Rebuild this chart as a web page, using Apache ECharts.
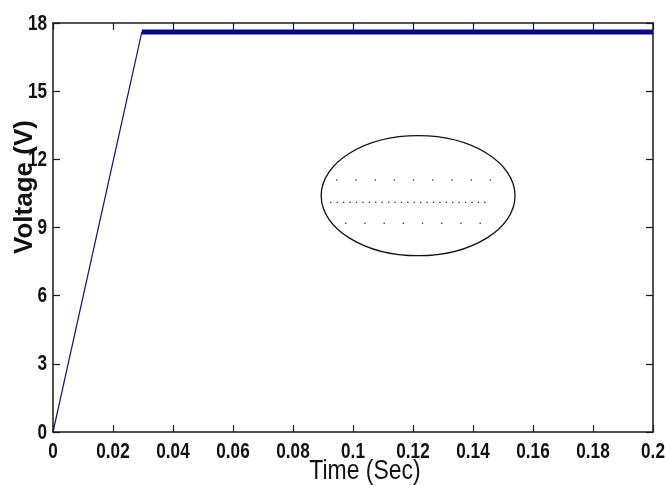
<!DOCTYPE html>
<html>
<head>
<meta charset="utf-8">
<script src="https://cdn.jsdelivr.net/npm/echarts@6/dist/echarts.min.js"></script>
<style>
html,body{margin:0;padding:0;background:#fff;}
#chart{width:665px;height:486px;}
</style>
</head>
<body>
<div id="chart"></div>
<script>
// ---- data ----
var xTicks = [0, 0.02, 0.04, 0.06, 0.08, 0.1, 0.12, 0.14, 0.16, 0.18, 0.2];
var xTickLabels = ['0','0.02','0.04','0.06','0.08','0.1','0.12','0.14','0.16','0.18','0.2'];
var yTicks = [0, 3, 6, 9, 12, 15, 18];
var yTickLabels = ['0','3','6','9','12','15','18'];
var rampTime = [0, 0.0296];
var rampVoltage = [0, 17.6];
var steadyTime = [0.0296, 0.2];
var steadyVoltage = [17.6, 17.6];
// annotation (ellipse with dotted rows), in data units
var ellipseCenter = [0.1217, 10.40];
var ellipseRadii = [0.0323, 2.64];
var dotRowY = [11.09, 10.11, 9.19];
var dotRowStart = [0.0946, 0.0926, 0.0976];
var dotRowStep = [0.0064, 0.00214, 0.0064];
var dotRowCount = [9, 25, 8];
var xTitle = 'Time (Sec)';
var yTitle = 'Voltage (V)';

var sansFont = '"Liberation Sans", Arial, sans-serif';

function pairs(xs, ys){ return xs.map(function(x,i){ return [x, ys[i]]; }); }

var chart = echarts.init(document.getElementById('chart'), null, {renderer:'canvas'});
var axisLine = {show:true, onZero:false, lineStyle:{color:'#1a1a1a', width:1.5}};
var tick = {show:true, inside:true, length:7, lineStyle:{color:'#1a1a1a', width:1.2}};
var option = {
  animation:false,
  backgroundColor:'#ffffff',
  grid:{left:53, right:12, top:23, bottom:54, containLabel:false},
  xAxis:[
    {type:'value', min:0, max:0.2, interval:0.02, position:'bottom',
     axisLine:axisLine, axisTick:tick, splitLine:{show:false}, axisLabel:{show:false}},
    {type:'value', min:0, max:0.2, interval:0.02, position:'top',
     axisLine:axisLine, axisTick:tick, splitLine:{show:false}, axisLabel:{show:false}}
  ],
  yAxis:[
    {type:'value', min:0, max:18, interval:3, position:'left',
     axisLine:axisLine, axisTick:tick, splitLine:{show:false}, axisLabel:{show:false}},
    {type:'value', min:0, max:18, interval:3, position:'right',
     axisLine:axisLine, axisTick:tick, splitLine:{show:false}, axisLabel:{show:false}}
  ],
  series:[
    {type:'line', data:pairs(rampTime, rampVoltage), showSymbol:false, symbol:'none',
     lineStyle:{color:'#14146e', width:1.2}, z:3},
    {type:'line', data:pairs(steadyTime, steadyVoltage), showSymbol:false, symbol:'none',
     lineStyle:{color:'#08088f', width:5}, z:3}
  ]
};
chart.setOption(option);

var g = [];
// tick labels (narrow bold look via horizontal scaling), positioned through the axes
xTicks.forEach(function(v, i){
  var p = chart.convertToPixel({xAxisIndex:0, yAxisIndex:0}, [v, 0]);
  g.push({type:'text', x:p[0], y:p[1] + 20, scaleX:0.78, z:10,
          style:{text:xTickLabels[i], font:'bold 22px ' + sansFont, fill:'#111', textAlign:'center', textVerticalAlign:'middle'}});
});
yTicks.forEach(function(v, i){
  var p = chart.convertToPixel({xAxisIndex:0, yAxisIndex:0}, [0, v]);
  g.push({type:'text', x:p[0] - 6, y:p[1] + 0.5, scaleX:0.78, z:10,
          style:{text:yTickLabels[i], font:'bold 22px ' + sansFont, fill:'#111', textAlign:'right', textVerticalAlign:'middle'}});
});
// annotation
var c = chart.convertToPixel({gridIndex:0}, ellipseCenter);
var ex = chart.convertToPixel({gridIndex:0}, [ellipseCenter[0] + ellipseRadii[0], ellipseCenter[1] + ellipseRadii[1]]);
g.push({type:'ellipse', shape:{cx:c[0], cy:c[1], rx:Math.abs(ex[0]-c[0]), ry:Math.abs(ex[1]-c[1])},
        style:{fill:null, stroke:'#111', lineWidth:1.3}, z:10});
for (var r = 0; r < dotRowY.length; r++) {
  for (var k = 0; k < dotRowCount[r]; k++) {
    var p = chart.convertToPixel({gridIndex:0}, [dotRowStart[r] + k*dotRowStep[r], dotRowY[r]]);
    g.push({type:'circle', shape:{cx:p[0], cy:p[1], r:0.8}, style:{fill:'#333'}, z:10});
  }
}
// axis titles
g.push({type:'text', x:365, y:471, scaleX:0.82, z:11,
        style:{text:xTitle, font:'normal 28px ' + sansFont, fill:'#111', textAlign:'center', textVerticalAlign:'middle'}});
g.push({type:'text', x:25, y:187, rotation:Math.PI/2, z:11,
        style:{text:yTitle, font:'bold 26px ' + sansFont, fill:'#111', textAlign:'center', textVerticalAlign:'middle'}});
chart.setOption({graphic:g});
</script>
</body>
</html>
